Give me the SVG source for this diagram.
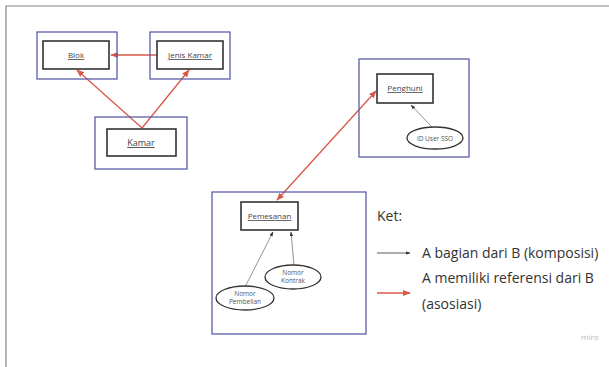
<svg xmlns="http://www.w3.org/2000/svg" width="609" height="367" viewBox="0 0 609 367">
<defs>
<style>
.outer{fill:none;stroke:#5a5fa8;stroke-width:1.3}
.inner{fill:#fff;stroke:#333;stroke-width:1.6}
.ell{fill:#fff;stroke:#333;stroke-width:1.3}
.lbl{font-family:"Open Sans","Liberation Sans",sans-serif;font-size:8px;fill:#444;text-anchor:middle;text-decoration:underline}
.elbl{font-family:"Open Sans","Liberation Sans",sans-serif;font-size:6.5px;fill:#555;text-anchor:middle}
.red{stroke:#d9584a;stroke-width:1.3;fill:none}
.blk{stroke:#777;stroke-width:0.8;fill:none}
.leg{font-family:"Open Sans","Liberation Sans",sans-serif;font-size:14px;fill:#333}
</style>
<marker id="ar" viewBox="0 0 10 10" refX="9" refY="5" markerWidth="6" markerHeight="6" orient="auto-start-reverse"><path d="M0,1 L10,5 L0,9 z" fill="#d9584a"/></marker>
<marker id="ab" viewBox="0 0 10 10" refX="9" refY="5" markerWidth="6" markerHeight="6" orient="auto"><path d="M0,1.5 L10,5 L0,8.5 z" fill="#333"/></marker>
</defs>
<rect width="609" height="367" fill="#fff"/>
<path d="M6,367 V6 H609" fill="none" stroke="#888" stroke-width="1.2"/>
<g id="connectors">
<line class="red" x1="157" y1="55" x2="111" y2="55" marker-end="url(#ar)"/>
<line class="red" x1="142" y1="128" x2="77" y2="70" marker-end="url(#ar)"/>
<line class="red" x1="142" y1="128" x2="189" y2="70" marker-end="url(#ar)"/>
<line class="red" x1="277" y1="200" x2="376" y2="91" marker-start="url(#ar)" marker-end="url(#ar)"/>
<line class="blk" x1="432" y1="127" x2="411" y2="105" marker-end="url(#ab)"/>
<line class="blk" x1="245" y1="287" x2="273" y2="232" marker-end="url(#ab)"/>
<line class="blk" x1="294" y1="265" x2="291" y2="232" marker-end="url(#ab)"/>
</g>
<g id="blok">
<rect class="outer" x="37" y="32" width="80" height="47"/>
<rect class="inner" x="43" y="41" width="66" height="28"/>
<text class="lbl" x="76" y="58">Blok</text>
</g>
<g id="jenis-kamar">
<rect class="outer" x="150" y="32" width="80" height="47"/>
<rect class="inner" x="157" y="41" width="66" height="28"/>
<text class="lbl" x="190" y="58">Jenis Kamar</text>
</g>
<g id="kamar">
<rect class="outer" x="95" y="117" width="92" height="52"/>
<rect class="inner" x="107" y="129" width="69" height="27"/>
<text class="lbl" x="141" y="146" style="font-size:9px">Kamar</text>
</g>
<g id="penghuni">
<rect class="outer" x="359" y="59" width="110" height="98"/>
<rect class="inner" x="377" y="74" width="56" height="29"/>
<text class="lbl" x="405" y="91">Penghuni</text>
</g>
<g id="id-user-sso">
<ellipse class="ell" cx="435" cy="138" rx="28" ry="11"/>
<text class="elbl" x="435" y="140.5">ID User SSO</text>
</g>
<g id="pemesanan">
<rect class="outer" x="212" y="192" width="154" height="142"/>
<rect class="inner" x="241" y="202" width="57" height="28"/>
<text class="lbl" x="269.5" y="219">Pemesanan</text>
</g>
<g id="nomor-kontrak">
<ellipse class="ell" cx="293" cy="277" rx="28" ry="12"/>
<text class="elbl" x="293" y="274.5">Nomor</text>
<text class="elbl" x="293" y="283">Kontrak</text>
</g>
<g id="nomor-pembelian">
<ellipse class="ell" cx="245" cy="298" rx="29" ry="12"/>
<text class="elbl" x="245" y="296">Nomor</text>
<text class="elbl" x="245" y="304">Pembelian</text>
</g>
<g id="legend">
<text class="leg" x="377" y="221">Ket:</text>
<line x1="377" y1="253" x2="410" y2="253" stroke="#333" stroke-width="0.8" marker-end="url(#ab)"/>
<text class="leg" x="422" y="258">A bagian dari B (komposisi)</text>
<line x1="377" y1="293" x2="410" y2="293" class="red" marker-end="url(#ar)"/>
<text class="leg" x="422" y="283">A memiliki referensi dari B</text>
<text class="leg" x="422" y="309">(asosiasi)</text>
<text x="581" y="340" style="font-family:'Open Sans','Liberation Sans',sans-serif;font-size:8px;fill:#bbb">miro</text>
</g>
</svg>
